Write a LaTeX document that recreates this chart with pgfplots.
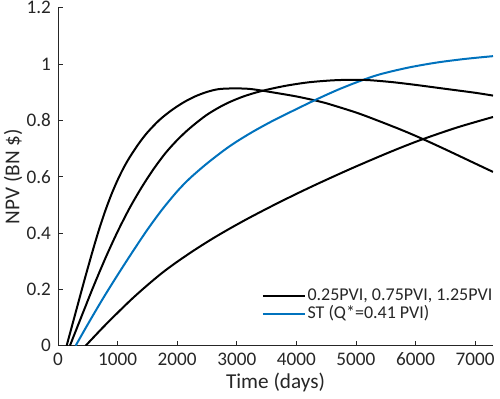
\documentclass[border=0pt]{standalone}
\usepackage{fontspec}
\setmainfont{Carlito}
\usepackage{pgfplots}
\pgfplotsset{compat=1.18}
\definecolor{mblue}{HTML}{0072BD}
\definecolor{axgray}{HTML}{262626}

\begin{document}
\begin{tikzpicture}
\begin{axis}[
    scale only axis,
    width=217.5pt, height=169pt,
    xmin=0, xmax=7300, ymin=0, ymax=1.2,
    axis x line*=bottom, axis y line*=left,
    axis line style={axgray, line width=0.4pt, -},
    xtick={0,1000,2000,3000,4000,5000,6000,7000},
    ytick={0,0.2,0.4,0.6,0.8,1,1.2},
    scaled x ticks=false,
    xticklabel style={/pgf/number format/1000 sep={}},
    /pgf/number format/assume math mode=true,
    tick style={axgray, line width=0.4pt},
    tick align=inside, major tick length=2.5pt,
    ticklabel style={font=\fontsize{9.6}{11}\selectfont, text=axgray},
    xlabel={Time (days)}, ylabel={NPV (BN \$)},
    label style={font=\fontsize{10.6}{12}\selectfont, text=axgray},
    xlabel style={at={(axis description cs:0.5,-0.109)}, anchor=center},
    ylabel style={at={(axis description cs:-0.103,0.5)}, anchor=center},
    legend cell align=left,
    legend style={draw=none, fill=none, at={(1.002,0.065)}, anchor=south east,
        font=\fontsize{9}{10}\selectfont, text=axgray, inner sep=0pt,
        row sep=0pt, column sep=0pt,
        nodes={inner xsep=0.6pt, inner ysep=0pt, text height=6.5pt, text depth=2.5pt}},
    legend image code/.code={\draw[#1] (0pt,0pt) -- (21.2pt,0pt);},
    every axis plot/.append style={line width=1pt, smooth},
]
% 0.25 PVI
\addplot[black] coordinates {
    (145,0) (300,0.121) (450,0.238) (600,0.350) (700,0.420) (800,0.483)
    (900,0.539) (1000,0.588) (1100,0.631) (1200,0.668) (1350,0.716)
    (1500,0.757) (1700,0.801) (1900,0.835) (2100,0.863) (2300,0.885)
    (2500,0.901) (2700,0.911) (2950,0.9135) (3200,0.912) (3412,0.906)
    (3700,0.896) (4000,0.885) (4333,0.870) (4500,0.861) (5000,0.828)
    (5394,0.797) (5800,0.763) (6119,0.734) (6500,0.697) (7000,0.647)
    (7300,0.617)
};
\addlegendentry{0.25PVI, 0.75PVI, 1.25PVI}
% ST
\addplot[mblue] coordinates {
    (296,0) (500,0.076) (750,0.166) (1000,0.251) (1250,0.333) (1500,0.412)
    (1750,0.484) (2000,0.548) (2211,0.594) (2500,0.647) (2800,0.696)
    (3000,0.725) (3272,0.760) (3600,0.798) (4000,0.840) (4333,0.874)
    (4700,0.909) (5059,0.939) (5394,0.963) (5870,0.987) (6347,1.005)
    (6823,1.018) (7300,1.028)
};
\addlegendentry{ST (Q*=0.41 PVI)}
% 0.75 PVI
\addplot[black, forget plot] coordinates {
    (200,0) (400,0.107) (600,0.213) (800,0.313) (1000,0.405) (1200,0.488)
    (1400,0.561) (1600,0.626) (1800,0.683) (2000,0.730) (2211,0.772)
    (2500,0.820) (2800,0.857) (3100,0.884) (3412,0.904) (3800,0.922)
    (4200,0.935) (4600,0.942) (4900,0.944) (5200,0.943) (5600,0.936)
    (6000,0.926) (6500,0.912) (7000,0.898) (7300,0.888)
};
% 1.25 PVI
\addplot[black, forget plot] coordinates {
    (464,0) (750,0.064) (1000,0.117) (1250,0.168) (1500,0.215) (1750,0.259)
    (2000,0.298) (2300,0.341) (2600,0.381) (2900,0.418) (3200,0.453)
    (3600,0.497) (4000,0.539) (4389,0.578) (4900,0.627) (5394,0.672)
    (5750,0.703) (6119,0.733) (6700,0.775) (7300,0.812)
};
\end{axis}
\pgfresetboundingbox
\useasboundingbox ([xshift=-29pt,yshift=-26.15pt]current axis.south west)
    rectangle ([xshift=3.5pt,yshift=3.85pt]current axis.north east);
\end{tikzpicture}
\end{document}
